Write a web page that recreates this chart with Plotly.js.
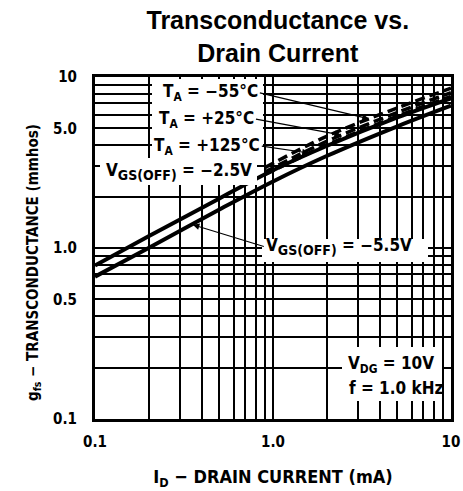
<!DOCTYPE html>
<html>
<head>
<meta charset="utf-8">
<script src="https://cdn.plot.ly/plotly-3.0.1.min.js"></script>
<style>html,body{margin:0;padding:0;background:#fff;}#chart{width:463px;height:491px;}</style>
</head>
<body>
<div id="chart"></div>
<script>
// ---- data ----
const idSolid = [0.1, 0.2, 0.5, 1, 2, 5, 10];                 // I_D (mA)
const gfsVgsOff25 = [0.79, 1.17, 1.95, 2.85, 3.95, 5.8, 7.5];  // VGS(OFF) = -2.5 V
const gfsVgsOff55 = [0.68, 1.0, 1.68, 2.45, 3.45, 5.15, 6.8];  // VGS(OFF) = -5.5 V
const idTemp = [0.9, 2, 5, 10];
const gfsTm55 = [2.95, 4.5, 6.6, 8.6];   // TA = -55 C
const gfsTp25 = [2.78, 4.2, 6.2, 8.1];   // TA = +25 C
const gfsTp125 = [2.68, 4.0, 5.9, 7.7];  // TA = +125 C
const yTickVals = [0.1, 0.5, 1, 5, 10];
const yTickText = ['0.1', '0.5', '1.0', '5.0', '10'];
const xTickVals = [0.1, 1, 10];
const xTickText = ['0.1', '1.0', '10'];

// gridlines at 1..9 of each decade
function decadeGrid(lo, hi) {
  const v = [];
  for (let d = lo; d < hi; d++) for (let m = 1; m < 10; m++) v.push(m * Math.pow(10, d));
  v.push(Math.pow(10, hi));
  return v;
}
function logInterp(xs, ys, x) {
  const lx = Math.log10(x);
  for (let i = 0; i < xs.length - 1; i++) {
    const a = Math.log10(xs[i]), b = Math.log10(xs[i + 1]);
    if (lx >= a && lx <= b) {
      const t = (lx - a) / (b - a);
      return Math.pow(10, Math.log10(ys[i]) + t * (Math.log10(ys[i + 1]) - Math.log10(ys[i])));
    }
  }
  return ys[ys.length - 1];
}

const xGrid = decadeGrid(-1, 1);
const yGrid = decadeGrid(-1, 1);

const FONT = '"DejaVu Sans Condensed", "DejaVu Sans", sans-serif';

const traces = [
  {x: idSolid, y: gfsVgsOff25, mode: 'lines', line: {color: '#000', width: 4, shape: 'spline'}, name: 'VGS(OFF) = -2.5V'},
  {x: idSolid, y: gfsVgsOff55, mode: 'lines', line: {color: '#000', width: 4, shape: 'spline'}, name: 'VGS(OFF) = -5.5V'},
  {x: idTemp, y: gfsTm55, mode: 'lines', line: {color: '#000', width: 3.5, dash: '10px,5px', shape: 'spline'}, name: 'TA = -55C'},
  {x: idTemp, y: gfsTp25, mode: 'lines', line: {color: '#000', width: 3.5, dash: '10px,5px', shape: 'spline'}, name: 'TA = +25C'},
  {x: idTemp, y: gfsTp125, mode: 'lines', line: {color: '#000', width: 3.5, dash: '10px,5px', shape: 'spline'}, name: 'TA = +125C'}
];

// plot-area helpers (paper coordinates from pixel positions inside the 463x491 page)
const L = 95, R = 451, T = 77, B = 419;
const px = v => (v - L) / (R - L);
const py = v => (B - v) / (B - T);
function mask(x0, y0, x1, y1) {
  return {type: 'rect', xref: 'paper', yref: 'paper', x0: px(x0), x1: px(x1), y0: py(y1), y1: py(y0),
          fillcolor: '#fff', line: {width: 0}, layer: 'above'};
}
const shapes = [
  mask(152, 79, 263, 158),
  mask(100, 158, 257, 185),
  mask(262, 239, 428, 262),
  mask(342, 347, 442, 401)
];

const lblFont = {family: FONT, size: 17, color: '#000', weight: 'bold'};
const SUB = s => '<sub><span style="font-size:14px">' + s + '</span></sub>';
function label(text, x, y, anchor) {
  return {text: text, xref: 'paper', yref: 'paper', x: px(x), y: py(y), xanchor: anchor || 'left', yanchor: 'middle',
          showarrow: false, font: lblFont};
}
// label whose arrow runs from the label edge (tail, pixel offset) to a point on a curve
function arrowLabel(text, xs, ys, idx, ax, ay, anchor) {
  return {text: text, x: Math.log10(idx), y: Math.log10(logInterp(xs, ys, idx)), xref: 'x', yref: 'y',
          showarrow: true, arrowhead: 2, arrowsize: 1.1, arrowwidth: 1.2, arrowcolor: '#000',
          ax: ax, ay: ay, xanchor: anchor, yanchor: 'middle', standoff: 1, font: lblFont};
}
const annotations = [
  arrowLabel('T<sub>A</sub> = \u221255\u00b0C', idTemp, gfsTm55, 3.5, -110, -26, 'right'),
  arrowLabel('T<sub>A</sub> = +25\u00b0C', idTemp, gfsTp25, 2.44, -86, -16, 'right'),
  arrowLabel('T<sub>A</sub> = +125\u00b0C', idTemp, gfsTp125, 1.61, -48, -7, 'right'),
  label('V' + SUB('GS(OFF)') + ' = \u22122.5V', 104, 171),
  arrowLabel('V' + SUB('GS(OFF)') + ' = \u22125.5V', idSolid, gfsVgsOff55, 0.35, 72, 22, 'left'),
  label('V<sub>DG</sub> = 10V', 346, 364),
  label('f = 1.0 kHz', 347, 388),
  {text: 'g<sub>fs</sub> \u2212 TRANSCONDUCTANCE (mmhos)', xref: 'paper', yref: 'paper',
   x: px(33), y: py(263), xanchor: 'center', yanchor: 'middle', textangle: -90, showarrow: false,
   font: {family: FONT, size: 15, color: '#000', weight: 'bold'}}
];

const axisCommon = {
  type: 'log', showgrid: true, gridcolor: '#000', gridwidth: 2, zeroline: false,
  showline: true, linecolor: '#000', linewidth: 3, mirror: true, ticks: '',
  tickmode: 'array', fixedrange: true,
  tickfont: {family: FONT, size: 15, color: '#000', weight: 'bold'}
};

const layout = {
  width: 463, height: 491,
  margin: {l: L, r: 463 - R, t: T, b: 491 - B},
  paper_bgcolor: '#fff', plot_bgcolor: '#fff',
  showlegend: false,
  title: {text: 'Transconductance vs.<br>Drain Current', x: 0.6, xanchor: 'center', y: 0.94, yanchor: 'top',
          font: {family: '"Liberation Sans", Arial, sans-serif', size: 25, color: '#000', weight: 'bold'}},
  xaxis: Object.assign({}, axisCommon, {
    range: [-1, 1], tickvals: xTickVals, ticktext: xTickText, ticklabelstandoff: 7,
    minor: {tickmode: 'array', tickvals: xGrid, showgrid: true, gridcolor: '#000', gridwidth: 2, ticks: ''},
    title: {text: 'I<sub>D</sub> \u2212 DRAIN CURRENT (mA)', standoff: 21,
            font: {family: FONT, size: 18, color: '#000', weight: 'bold'}}
  }),
  yaxis: Object.assign({}, axisCommon, {
    range: [-1, 1], tickvals: yTickVals, ticktext: yTickText, ticklabelstandoff: 12,
    minor: {tickmode: 'array', tickvals: yGrid, showgrid: true, gridcolor: '#000', gridwidth: 2, ticks: ''}
  }),
  shapes: shapes,
  annotations: annotations
};

const SVGNS = 'http://www.w3.org/2000/svg';
const ZW = '\u200b';
Plotly.newPlot('chart', traces, layout, {displayModeBar: false, staticPlot: true}).then(gd => {
  // Plotly pads sub/superscripts with zero-width-space helpers; fold their baseline
  // resets into the following text so no empty, sizeless text pieces remain.
  gd.querySelectorAll('tspan').forEach(ts => {
    if (ts.textContent !== ZW) return;
    const dy = ts.getAttribute('dy');
    const next = ts.nextSibling;
    if (dy && next) {
      if (next.nodeType === 3) {
        const w = document.createElementNS(SVGNS, 'tspan');
        w.setAttribute('dy', dy);
        next.parentNode.insertBefore(w, next);
        w.appendChild(next);
      } else if (next.nodeName === 'tspan' && !next.getAttribute('dy')) {
        next.setAttribute('dy', dy);
      } else {
        return;
      }
    }
    ts.remove();
  });
  // strip stray zero-width text nodes
  const walker = document.createTreeWalker(gd, NodeFilter.SHOW_TEXT);
  const dead = [];
  while (walker.nextNode()) {
    const n = walker.currentNode;
    if (n.nodeValue.indexOf(ZW) >= 0) {
      n.nodeValue = n.nodeValue.split(ZW).join('');
      if (!n.nodeValue) dead.push(n);
    }
  }
  dead.forEach(n => n.remove());
  gd.querySelectorAll('text, tspan').forEach(t => { if (!t.textContent.trim()) t.remove(); });
});
</script>
</body>
</html>
